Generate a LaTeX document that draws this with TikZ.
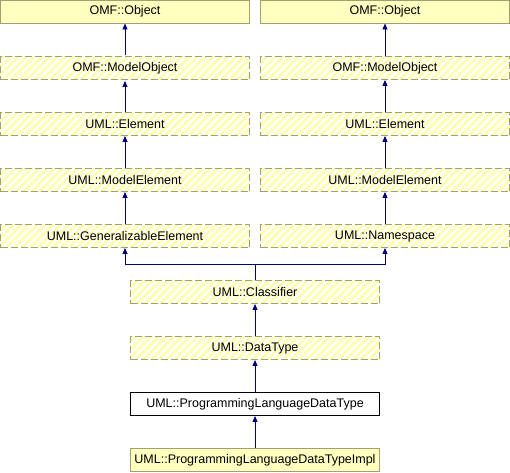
\documentclass[tikz,border=0pt]{standalone}
\usepackage{fontspec}
\setmainfont{Liberation Sans}
\usepackage{tikz}
\usetikzlibrary{arrows.meta,patterns.meta,calc}
\definecolor{gelb}{HTML}{FFFFC0}
\definecolor{streif}{HTML}{FFFFB0}
\definecolor{rahmen}{HTML}{A0A070}
\definecolor{navy}{HTML}{000080}
\tikzset{
  kl/.style={draw=rahmen,line width=0.9pt,minimum width=249pt,minimum height=23pt,
    inner sep=0pt,font=\fontsize{12.5}{14}\selectfont},
  klvoll/.style={kl,fill=gelb},
  klstreif/.style={kl,dash pattern=on 7pt off 3pt,
    pattern={Lines[angle=45,distance=5.5pt,line width=2.8pt]},pattern color=streif},
  klweiss/.style={kl,draw=black,fill=white},
  erbt/.style={navy,line width=0.9pt,-{Triangle[length=6pt,width=5pt]}},
}
\begin{document}
\begin{tikzpicture}[x=1pt,y=1pt]
  \useasboundingbox (0,0) rectangle (510,-472);
  % linker Zweig
  \node[klvoll]   (objl)  at (125,-11.5) {OMF::Object};
  \node[klstreif] (mobjl) at (125,-68)   {OMF::ModelObject};
  \node[klstreif] (elel)  at (125,-124)  {UML::Element};
  \node[klstreif] (melel) at (125,-180)  {UML::ModelElement};
  \node[klstreif] (gen)   at (125,-236)  {UML::GeneralizableElement};
  % rechter Zweig
  \node[klvoll]   (objr)  at (385,-11.5) {OMF::Object};
  \node[klstreif] (mobjr) at (385,-68)   {OMF::ModelObject};
  \node[klstreif] (eler)  at (385,-124)  {UML::Element};
  \node[klstreif] (meler) at (385,-180)  {UML::ModelElement};
  \node[klstreif] (ns)    at (385,-236)  {UML::Namespace};
  % Mitte
  \node[klstreif] (cls)   at (255,-292)  {UML::Classifier};
  \node[klstreif] (dt)    at (255,-348)  {UML::DataType};
  \node[klweiss]  (pldt)  at (255,-404)  {UML::ProgrammingLanguageDataType};
  \node[klvoll]   (impl)  at (255,-460)  {UML::ProgrammingLanguageDataTypeImpl};
  % Vererbung
  \draw[erbt] (mobjl) -- (objl);
  \draw[erbt] (elel) -- (mobjl);
  \draw[erbt] (melel) -- (elel);
  \draw[erbt] (gen) -- (melel);
  \draw[erbt] (mobjr) -- (objr);
  \draw[erbt] (eler) -- (mobjr);
  \draw[erbt] (meler) -- (eler);
  \draw[erbt] (ns) -- (meler);
  \coordinate (knick) at ($(cls.north)+(0,16)$);
  \draw[navy,line width=0.9pt] (cls.north) -- (knick);
  \draw[erbt] (knick) -| (gen.south);
  \draw[erbt] (knick) -| (ns.south);
  \draw[erbt] (dt) -- (cls);
  \draw[erbt] (pldt) -- (dt);
  \draw[erbt] (impl) -- (pldt);
\end{tikzpicture}
\end{document}
